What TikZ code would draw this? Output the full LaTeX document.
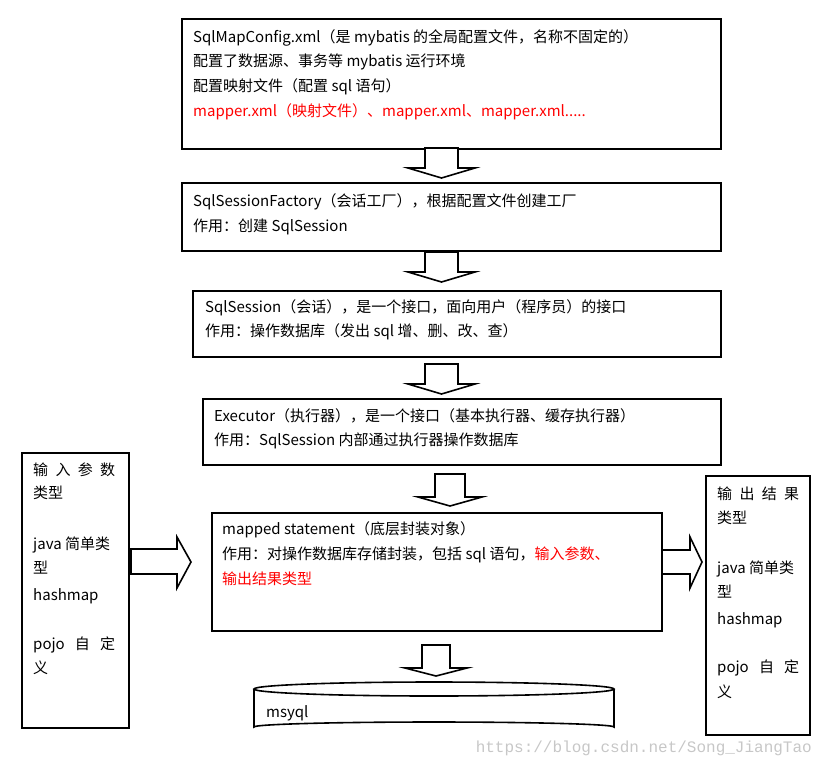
\documentclass[tikz,border=0pt]{standalone}
\usepackage{fontspec}
\setmainfont{Noto Sans CJK SC}
\newfontfamily\wmfont{Liberation Mono}
\begin{document}
\begin{tikzpicture}[x=1pt,y=-1pt,
  box/.style={draw,line width=1.6pt},
  txt/.style={anchor=west,inner sep=0pt,font=\fontsize{15}{17}\selectfont},
  red/.style={text=red},
  hol/.style={draw,line width=1.6pt,fill=white,line join=miter}]
\useasboundingbox (0,0) rectangle (821,769);
% main boxes
\node[box,minimum width=539,minimum height=130,anchor=north west] (cfg) at (181,18) {};
\node[box,minimum width=539,minimum height=68,anchor=north west] (fac) at (181,182) {};
\node[box,minimum width=528,minimum height=66,anchor=north west] (ses) at (192,290) {};
\node[box,minimum width=518,minimum height=66,anchor=north west] (exe) at (202,398) {};
\node[box,minimum width=450,minimum height=118,anchor=north west] (map) at (211,512) {};
\node[box,minimum width=107,minimum height=275,anchor=north west] (inp) at (21,452) {};
\node[box,minimum width=104,minimum height=259,anchor=north west] (out) at (705,475) {};
% texts
\node[txt] (t1) at (193,38) {SqlMapConfig.xml（是 mybatis 的全局配置文件，名称不固定的）};
\node[txt] (t2) at (193,62) {配置了数据源、事务等 mybatis 运行环境};
\node[txt] (t3) at (193,87) {配置映射文件（配置 sql 语句）};
\node[txt,red] (t4) at (193,112) {mapper.xml（映射文件）、mapper.xml、mapper.xml.....};
\node[txt] (f1) at (193,202) {SqlSessionFactory（会话工厂），根据配置文件创建工厂};
\node[txt] (f2) at (193,227) {作用：创建 SqlSession};
\node[txt] (s1) at (205,308) {SqlSession（会话），是一个接口，面向用户（程序员）的接口};
\node[txt] (s2) at (205,332) {作用：操作数据库（发出 sql 增、删、改、查）};
\node[txt] (e1) at (214,416) {Executor（执行器），是一个接口（基本执行器、缓存执行器）};
\node[txt] (e2) at (214,441) {作用：SqlSession 内部通过执行器操作数据库};
\node[txt] (m1) at (222,530) {mapped statement（底层封装对象）};
\node[txt] (m2) at (222,555) {作用：对操作数据库存储封装，包括 sql 语句，\textcolor{red}{输入参数、}};
\node[txt,red] (m3) at (222,579) {输出结果类型};
% left box
\node[txt,text width=82] (l1) at (33,470) {输\hfill 入\hfill 参\hfill 数};
\node[txt] (l2) at (33,493) {类型};
\node[txt] (l3) at (33,545) {java 简单类};
\node[txt] (l4) at (33,568) {型};
\node[txt] (l5) at (33,596) {hashmap};
\node[txt,text width=82] (l6) at (33,645) {pojo\hfill 自\hfill 定};
\node[txt] (l7) at (33,668) {义};
% right box
\node[txt,text width=82] (r1) at (717,494) {输\hfill 出\hfill 结\hfill 果};
\node[txt] (r2) at (717,518) {类型};
\node[txt] (r3) at (717,569) {java 简单类};
\node[txt] (r4) at (717,592) {型};
\node[txt] (r5) at (717,620) {hashmap};
\node[txt,text width=82] (r6) at (717,668) {pojo\hfill 自\hfill 定};
\node[txt] (r7) at (717,692) {义};
% hollow down arrows
\foreach \xa/\xb/\t/\b/\tip in {425/458/148/168/178, 425/458/252/272/282, 425/458/364/384/394, 435/465/474/497/506, 422/450/645/668/676}{
  \draw[hol] (\xa,\t) -- (\xb,\t) -- (\xb,\b) -- ({\xb+17},\b) -- ({(\xa+\xb)/2},\tip) -- ({\xa-17},\b) -- (\xa,\b) -- cycle;
}
% hollow right arrows
\draw[hol] (131,549) -- (177,549) -- (177,537) -- (191,562) -- (177,588) -- (177,574) -- (131,574) -- cycle;
\draw[hol] (662,550) -- (690,550) -- (690,537) -- (702,562) -- (690,588) -- (690,574) -- (662,574) -- cycle;
% cylinder
\draw[line width=1.6pt,fill=white] (254,689) -- (254,727) arc[start angle=180,end angle=360,x radius=180,y radius=5] -- (614,689);
\draw[line width=1.6pt,fill=white] (434,689) ellipse[x radius=180,y radius=7];
\node[txt] (db) at (266,713) {msyql};
% watermark
\node[anchor=east,inner sep=0pt,text=black!22,font=\wmfont\fontsize{16}{17}\selectfont] (wm) at (812,748) {https://blog.csdn.net/Song\_JiangTao};
\end{tikzpicture}
\end{document}
